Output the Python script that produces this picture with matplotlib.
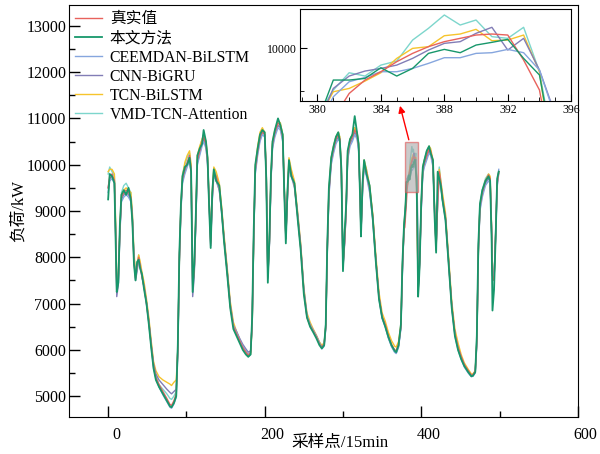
import matplotlib
matplotlib.use('Agg')
import matplotlib.pyplot as plt
from matplotlib.patches import Rectangle
from matplotlib.ticker import MultipleLocator
from matplotlib.transforms import ScaledTranslation

plt.rcParams['font.family'] = ['Liberation Serif', 'Noto Sans CJK SC']
plt.rcParams['axes.unicode_minus'] = False

# points d'échantillonnage (pas de 15 min)
x_pts = [0, 2, 5, 8, 10, 11, 13, 15, 17, 20, 23, 26, 29, 31, 33, 35, 37, 39, 41, 43, 46, 49, 52, 55, 58, 61, 65, 70, 75, 79, 81, 84, 87, 89, 91, 93, 95,
         98, 101, 104, 106, 108, 110, 112, 114, 117, 120, 122, 125, 127, 129, 131, 133, 135, 138, 142, 145, 148, 152, 156, 160, 164, 168, 172, 176, 179, 182, 184, 186, 188, 191,
         194, 197, 200, 202, 204, 206, 208, 210, 213, 217, 220, 223, 225, 227, 229, 231, 234, 238, 242, 246, 250, 254, 258, 262, 266, 270, 273, 276, 278, 280, 282, 285, 288,
         291, 294, 296, 298, 300, 302, 304, 306, 309, 312, 315, 318, 320, 322, 323, 325, 327, 330, 334, 338, 342, 346, 350, 354, 358, 362, 366, 368, 371, 374, 376, 378,
         379, 380, 381, 382, 383, 384, 385, 386, 387, 388, 389, 390, 391, 392, 393, 394, 395, 396,
         397, 398, 400, 402, 404, 407, 410, 412, 415, 417, 419, 421, 423, 425, 427, 431, 435, 439, 443, 447, 451, 455, 460, 464, 466, 469, 471, 473, 475, 478, 482, 486, 488, 490, 491, 493, 495, 497, 499]

true_load = [9500, 9750, 9800, 9650, 8200, 7300, 7500, 8600, 9300, 9400, 9450, 9400, 9300, 8800, 7900, 7550, 7800, 8000, 7800, 7600, 7350, 7000, 6600, 6100, 5650, 5400, 5250, 5100, 4950, 4820, 4800, 4900, 5050, 6000, 8000, 9100, 9700,
             9900, 10050, 10200, 9900, 7400, 7700, 8800, 10100, 10300, 10500, 10600, 10450, 10100, 9200, 8300, 9300, 9850, 9750, 9500, 9000, 8400, 7700, 6950, 6500, 6350, 6200, 6050, 5950, 5880, 5950, 6600, 8500, 9900, 10300,
             10600, 10720, 10650, 9800, 7600, 8300, 9700, 10450, 10700, 10900, 10850, 10600, 9500, 8400, 9300, 10050, 9800, 9550, 8900, 8200, 7250, 6700, 6520, 6400, 6280, 6120, 6050, 6120, 6500, 8200, 9400, 10100, 10350,
             10550, 10650, 10550, 9800, 7800, 8300, 9000, 10200, 10500, 10600, 10750, 10650, 10400, 9300, 8500, 9500, 10050, 9850, 9500, 8900, 7950, 7150, 6720, 6550, 6300, 6120, 6000, 5990, 6120, 6500, 7800, 8600,
             8650, 8900, 9170, 9469, 9627, 9725, 9843, 9941, 10020, 10079, 10118, 10157, 10169, 10157, 9862, 9509, 8500, 7300,
             7500, 7900, 9100, 9900, 10050, 10200, 10350, 10300, 10050, 9000, 8150, 9200, 9850, 9600, 9300, 8850, 7900, 6950, 6350, 6050, 5850, 5680, 5550, 5450, 5460, 5540, 6200, 8200, 9100, 9400, 9650, 9780, 9700, 8500, 7600, 7500, 8500, 9600, 9850]

ours = [9250, 9800, 9750, 9600, 8000, 7250, 7450, 8700, 9350, 9450, 9350, 9500, 9250, 8750, 7850, 7500, 7900, 7950, 7750, 7650, 7300, 7000, 6550, 6050, 5600, 5350, 5200, 5050, 4900, 4780, 4760, 4850, 5000, 6100, 8100, 9150, 9750,
        9950, 10000, 10150, 9850, 7250, 7850, 8900, 10200, 10350, 10450, 10750, 10500, 10150, 9100, 8200, 9400, 9900, 9650, 9550, 9000, 8350, 7650, 6900, 6450, 6300, 6150, 6000, 5900, 5850, 5900, 6700, 8600, 10000, 10350,
        10650, 10750, 10700, 9700, 7450, 8400, 9800, 10500, 10750, 11000, 10850, 10650, 9400, 8300, 9400, 10100, 9750, 9600, 8850, 8150, 7200, 6700, 6500, 6380, 6250, 6100, 6030, 6100, 6550, 8300, 9500, 10150, 10400,
        10600, 10700, 10500, 9900, 7700, 8500, 9100, 10300, 10550, 10650, 11050, 10700, 10450, 9200, 8450, 9600, 10100, 9800, 9550, 8850, 7900, 7100, 6700, 6500, 6280, 6100, 5980, 5950, 6100, 6550, 7900, 8700,
        8900, 9131, 9627, 9627, 9646, 9772, 9674, 9764, 9941, 9988, 9949, 10039, 10071, 10106, 9882, 9686, 8663, 7150,
        7450, 7850, 9200, 9950, 10100, 10300, 10400, 10250, 10100, 8900, 8100, 9850, 9700, 9550, 9250, 8800, 7850, 6900, 6300, 6000, 5800, 5650, 5520, 5430, 5440, 5520, 6300, 8300, 9150, 9450, 9650, 9750, 9650, 8300, 6850, 7300, 8400, 9700, 9850]

ceemdan_bilstm = [9400, 9650, 9700, 9600, 8300, 7400, 7450, 8500, 9200, 9300, 9350, 9300, 9200, 8800, 8000, 7600, 7750, 7950, 7800, 7600, 7350, 6980, 6580, 6080, 5620, 5380, 5200, 5030, 4880, 4760, 4740, 4830, 4980, 5900, 7900, 9000, 9600,
                  9800, 9950, 10100, 9850, 7450, 7700, 8750, 10000, 10200, 10400, 10500, 10350, 10050, 9250, 8350, 9200, 9750, 9700, 9450, 8950, 8400, 7700, 6950, 6520, 6380, 6220, 6080, 5980, 5900, 5950, 6550, 8400, 9800, 10200,
                  10500, 10650, 10600, 9800, 7700, 8300, 9650, 10350, 10600, 10800, 10750, 10500, 9500, 8450, 9250, 9950, 9750, 9500, 8900, 8200, 7300, 6750, 6550, 6420, 6300, 6150, 6020, 6080, 6450, 8100, 9300, 10000, 10250,
                  10450, 10550, 10500, 9800, 7850, 8300, 8950, 10100, 10400, 10500, 10650, 10550, 10300, 9300, 8550, 9400, 9950, 9750, 9400, 8800, 7900, 7100, 6680, 6500, 6250, 6070, 5950, 5920, 6050, 6450, 7700, 8600,
                  8800, 9050, 9430, 9607, 9658, 9725, 9725, 9764, 9823, 9890, 9890, 9941, 9949, 9988, 9949, 9744, 9190, 7400,
                  7600, 7950, 9000, 9800, 9950, 10100, 10250, 10200, 9950, 9000, 8250, 9150, 9750, 9550, 9250, 8800, 7850, 6900, 6300, 6000, 5800, 5630, 5500, 5420, 5430, 5500, 6100, 8100, 9000, 9300, 9550, 9650, 9600, 8550, 7700, 7550, 8400, 9500, 9900]

cnn_bigru = [9500, 9700, 9750, 9650, 8150, 7150, 7400, 8550, 9250, 9350, 9400, 9350, 9250, 8850, 7950, 7500, 7700, 7950, 7800, 7600, 7350, 7020, 6620, 6120, 5700, 5480, 5350, 5250, 5150, 5080, 5050, 5100, 5150, 6000, 7950, 9050, 9650,
             9850, 10000, 10150, 9800, 7150, 7600, 8750, 10050, 10250, 10450, 10550, 10400, 10000, 9150, 8250, 9250, 9800, 9650, 9450, 9000, 8420, 7720, 6980, 6530, 6400, 6250, 6120, 6020, 5950, 5980, 6550, 8450, 9850, 10250,
             10550, 10700, 10650, 9750, 7550, 8250, 9650, 10400, 10650, 10850, 10800, 10550, 9450, 8400, 9250, 10000, 9750, 9550, 8950, 8250, 7300, 6720, 6540, 6420, 6300, 6150, 6060, 6130, 6480, 8150, 9350, 10050, 10300,
             10500, 10600, 10550, 9750, 7750, 8250, 8950, 10150, 10450, 10550, 10700, 10600, 10350, 9250, 8500, 9450, 10000, 9800, 9450, 8850, 7950, 7150, 6700, 6520, 6280, 6100, 5980, 5960, 6080, 6480, 7750, 8650,
             8850, 9100, 9528, 9674, 9733, 9764, 9803, 9882, 9980, 10059, 10079, 10177, 10248, 9980, 10118, 9744, 9220, 7500,
             7500, 7900, 9050, 9850, 10000, 10150, 10300, 10250, 10000, 9050, 8200, 9200, 9800, 9550, 9250, 8850, 7900, 6950, 6350, 6050, 5850, 5680, 5540, 5450, 5460, 5540, 6150, 8150, 9050, 9350, 9600, 9700, 9650, 8500, 7650, 7500, 8450, 9550, 9800]

tcn_bilstm = [9850, 9900, 9900, 9800, 8500, 7450, 7550, 8600, 9350, 9450, 9500, 9450, 9400, 8950, 8100, 7700, 7850, 8050, 7900, 7700, 7450, 7100, 6700, 6200, 5750, 5550, 5420, 5350, 5300, 5260, 5230, 5300, 5350, 6000, 7900, 9100, 9750,
              10050, 10200, 10300, 10000, 7500, 7750, 8900, 10200, 10400, 10550, 10650, 10500, 10150, 9300, 8400, 9400, 9950, 9850, 9600, 9100, 8500, 7800, 7050, 6600, 6400, 6230, 6080, 5980, 5880, 5920, 6500, 8400, 9950, 10400,
              10700, 10800, 10700, 9850, 7650, 8350, 9750, 10500, 10750, 10950, 10900, 10650, 9550, 8450, 9350, 10150, 9900, 9650, 9000, 8300, 7350, 6800, 6600, 6450, 6320, 6170, 6100, 6150, 6500, 8150, 9400, 10150, 10400,
              10600, 10700, 10600, 9850, 7850, 8350, 9050, 10250, 10550, 10650, 10800, 10700, 10450, 9350, 8550, 9550, 10100, 9900, 9550, 8950, 8050, 7250, 6800, 6620, 6380, 6200, 6080, 6060, 6180, 6550, 7800, 8650,
              8900, 9150, 9489, 9528, 9615, 9713, 9882, 10000, 10020, 10149, 10169, 10224, 10090, 10098, 10157, 9725, 8400, 7400,
              7600, 8000, 9150, 9950, 10100, 10250, 10400, 10350, 10100, 9100, 8250, 9250, 9900, 9650, 9400, 8950, 8000, 7050, 6450, 6150, 5900, 5720, 5580, 5480, 5480, 5550, 6150, 8100, 9100, 9400, 9650, 9800, 9750, 8600, 7700, 7550, 8450, 9600, 9850]

vmd_tcn_att = [9800, 9950, 9850, 9750, 8400, 7350, 7450, 8650, 9400, 9550, 9600, 9500, 9400, 8900, 8000, 7600, 7800, 8050, 7850, 7650, 7400, 7050, 6650, 6150, 5700, 5450, 5250, 5150, 5050, 4950, 4930, 5000, 5100, 6050, 8000, 9150, 9800,
               10000, 10150, 10250, 9950, 7400, 7700, 8850, 10150, 10350, 10550, 10650, 10500, 10150, 9250, 8350, 9350, 9900, 9800, 9550, 9050, 8450, 7750, 7000, 6550, 6380, 6200, 6050, 5930, 5850, 5900, 6600, 8500, 9950, 10350,
               10650, 10750, 10700, 9800, 7600, 8300, 9700, 10450, 10700, 10950, 10900, 10650, 9550, 8450, 9350, 10100, 9850, 9600, 8950, 8250, 7300, 6750, 6560, 6430, 6300, 6150, 6080, 6150, 6550, 8250, 9450, 10150, 10400,
               10600, 10700, 10600, 9850, 7800, 8300, 9000, 10250, 10550, 10650, 10800, 10700, 10450, 9300, 8500, 9550, 10100, 9900, 9550, 8900, 7950, 7150, 6700, 6520, 6270, 6080, 5950, 5930, 6080, 6500, 7850, 8700,
               8950, 9200, 9509, 9713, 9674, 9803, 9851, 10098, 10236, 10393, 10275, 10334, 10138, 10118, 10248, 9725, 8700, 7300,
               7500, 7950, 9150, 9950, 10100, 10300, 10400, 10300, 10050, 9050, 8200, 9400, 9950, 9650, 9350, 8900, 7950, 6950, 6350, 6050, 5830, 5660, 5520, 5430, 5440, 5520, 6250, 8250, 9150, 9450, 9700, 9800, 9700, 8500, 7600, 7500, 8550, 9650, 9850]

labels = ['真实值', '本文方法', 'CEEMDAN-BiLSTM', 'CNN-BiGRU', 'TCN-BiLSTM', 'VMD-TCN-Attention']
series = [true_load, ours, ceemdan_bilstm, cnn_bigru, tcn_bilstm, vmd_tcn_att]
colors = ['#e8625c', '#17976b', '#86a6de', '#827db6', '#f6c42c', '#7dd6cc']
zorders = [5, 6, 4, 3, 2, 1]
widths = [1.0, 1.3, 1.0, 1.0, 1.0, 1.0]

fig = plt.figure(figsize=(6, 4.54), dpi=100)
ax = fig.add_axes([0.115, 0.0815, 0.848, 0.9075])

for y, lab, c, z, w in zip(series, labels, colors, zorders, widths):
    ax.plot(x_pts, y, color=c, lw=w, zorder=z, label=lab)

ax.set_xlim(-50, 600)
ax.set_ylim(4550, 13450)
ax.xaxis.set_major_locator(MultipleLocator(200))
ax.xaxis.set_minor_locator(MultipleLocator(100))
ax.yaxis.set_major_locator(MultipleLocator(1000))
ax.yaxis.set_minor_locator(MultipleLocator(500))
ax.tick_params(which='both', direction='in', labelsize=11.5)
ax.tick_params(which='major', length=8, width=1)
ax.tick_params(which='minor', length=4, width=1)
ax.tick_params(axis='x', pad=7)
ax.tick_params(axis='y', pad=2)
# les étiquettes x sont un peu décalées vers la droite dans l'original
shift = ScaledTranslation(0.08, 0, fig.dpi_scale_trans)
for lab in ax.get_xticklabels():
    lab.set_transform(lab.get_transform() + shift)

ax.set_xlabel('采样点/15min', fontsize=12)
ax.xaxis.set_label_coords(0.532, -0.044)
ax.set_ylabel('负荷/kW', fontsize=12, labelpad=-0.5)

leg = ax.legend(loc='upper left', frameon=False, fontsize=11.3, handlelength=1.7,
                handletextpad=0.5, labelspacing=0.2, borderaxespad=0.0,
                bbox_to_anchor=(0.0, 1.0))

# zone zoomée + flèche
ax.add_patch(Rectangle((379, 9400), 17, 1080, facecolor='#a8a8a8', alpha=0.6,
                       edgecolor='#e05050', lw=1, zorder=7))
ax.annotate('', xy=(372, 11330), xytext=(385, 10480),
            arrowprops=dict(arrowstyle='-|>', color='red', lw=1, mutation_scale=10),
            zorder=8)

# encart
axin = fig.add_axes([0.5, 0.7775, 0.452, 0.202])
for y, lab, c, z in zip(series, labels, colors, zorders):
    axin.plot(x_pts, y, color=c, lw=1.0, zorder=z)
axin.set_xlim(378.9, 396.0)
axin.set_ylim(9380, 10460)
axin.xaxis.set_major_locator(MultipleLocator(4))
axin.xaxis.set_minor_locator(MultipleLocator(1))
axin.yaxis.set_major_locator(MultipleLocator(1000))
axin.yaxis.set_minor_locator(MultipleLocator(500))
axin.tick_params(which='both', direction='in', labelsize=8.5, pad=2)
axin.tick_params(which='major', length=5)
axin.tick_params(which='minor', length=3)

fig.savefig('out.png', dpi=100)
